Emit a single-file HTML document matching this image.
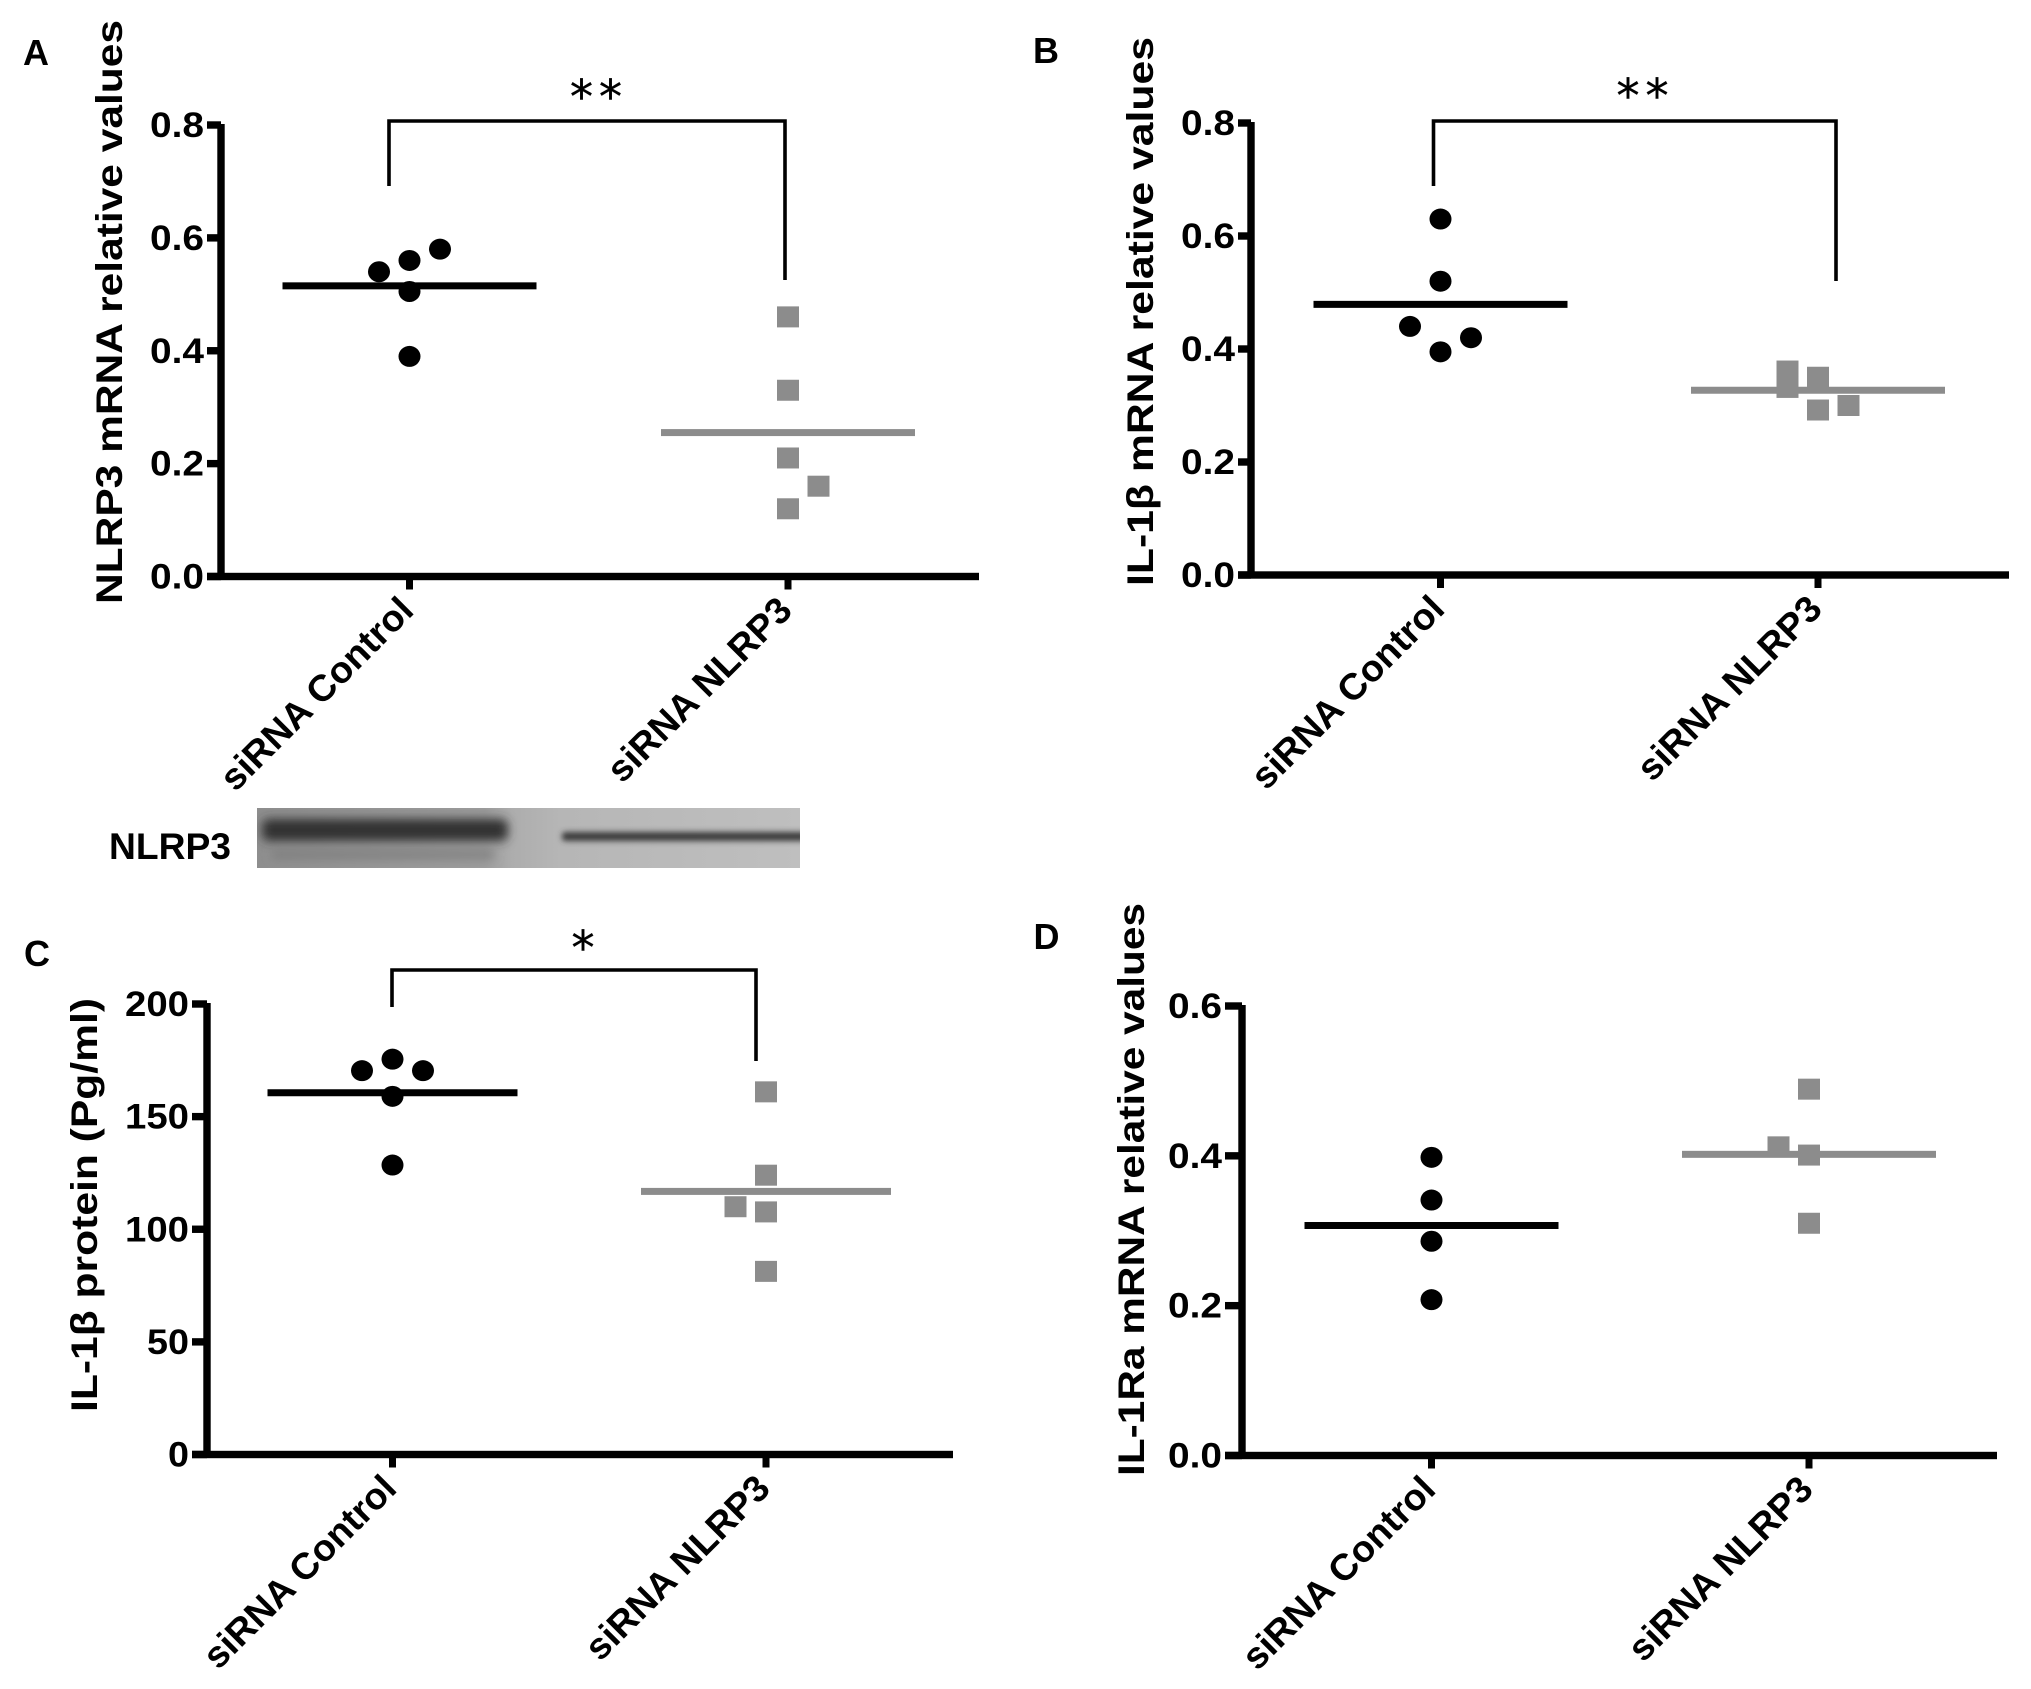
<!DOCTYPE html>
<html lang="en">
<head>
<meta charset="utf-8">
<title>NLRP3 siRNA knockdown panels</title>
<style>
html,body{margin:0;padding:0;background:#fff;}
#figure{display:block;width:2031px;height:1689px;}
text{font-family:"Liberation Sans",sans-serif;font-weight:700;fill:#000;}
</style>
</head>
<body>
<svg id="figure" xmlns="http://www.w3.org/2000/svg" width="2031" height="1689" viewBox="0 0 2031 1689">
  <defs>
    <linearGradient id="blot-bg" x1="0" x2="1" y1="0" y2="0">
      <stop offset="0" stop-color="#8e8e8e"/>
      <stop offset="0.42" stop-color="#9c9c9c"/>
      <stop offset="0.47" stop-color="#adadad"/>
      <stop offset="0.56" stop-color="#b6b6b6"/>
      <stop offset="1" stop-color="#bfbfbf"/>
    </linearGradient>
    <filter id="blot-blur" x="-10%" y="-120%" width="120%" height="340%"><feGaussianBlur stdDeviation="5"/></filter>
    <filter id="blot-blur-soft" x="-10%" y="-150%" width="120%" height="400%"><feGaussianBlur stdDeviation="3"/></filter>
    <clipPath id="blot-clip"><rect x="257" y="808" width="543" height="60"/></clipPath>
  </defs>
  <g clip-path="url(#blot-clip)">
    <rect x="257" y="808" width="543" height="60" fill="url(#blot-bg)"/>
    <rect x="262" y="819" width="246" height="22" rx="7" fill="#303030" filter="url(#blot-blur)"/>
    <rect x="272" y="851" width="222" height="7" fill="#7a7a7a" filter="url(#blot-blur)"/>
    <rect x="562" y="832" width="244" height="9" rx="3" fill="#3a3a3a" filter="url(#blot-blur-soft)"/>
  </g>
  <text x="109" y="859" font-size="37" textLength="122" lengthAdjust="spacingAndGlyphs">NLRP3</text>
  <g id="plots"></g>
</svg>
<script>
const categories = ['siRNA Control', 'siRNA NLRP3'];

const panelATicks = [0, 0.2, 0.4, 0.6, 0.8];
const panelAControl = [0.54, 0.56, 0.58, 0.505, 0.39];
const panelAControlSide = [-1, 0, 1, 0, 0];
const panelANlrp3 = [0.46, 0.33, 0.21, 0.16, 0.12];
const panelANlrp3Side = [0, 0, 0, 1, 0];
const panelAMeans = [0.515, 0.255];

const panelBTicks = [0, 0.2, 0.4, 0.6, 0.8];
const panelBControl = [0.63, 0.52, 0.44, 0.42, 0.395];
const panelBControlSide = [0, 0, -1, 1, 0];
const panelBNlrp3 = [0.361, 0.332, 0.35, 0.292, 0.30];
const panelBNlrp3Side = [-1, -1, 0, 0, 1];
const panelBMeans = [0.479, 0.327];

const panelCTicks = [0, 50, 100, 150, 200];
const panelCControl = [175.5, 170.4, 170.4, 159, 128.5];
const panelCControlSide = [0, -1, 1, 0, 0];
const panelCNlrp3 = [161, 124, 110, 107.7, 81.3];
const panelCNlrp3Side = [0, 0, -1, 0, 0];
const panelCMeans = [160.6, 116.8];

const panelDTicks = [0, 0.2, 0.4, 0.6];
const panelDControl = [0.398, 0.341, 0.286, 0.208];
const panelDControlSide = [0, 0, 0, 0];
const panelDNlrp3 = [0.489, 0.412, 0.401, 0.31];
const panelDNlrp3Side = [0, -1, 0, 0];
const panelDMeans = [0.307, 0.402];

const SVGNS = 'http://www.w3.org/2000/svg';
const root = document.getElementById('plots');

function make(parent, tag, attrs, content) {
  const el = document.createElementNS(SVGNS, tag);
  for (const key in attrs) el.setAttribute(key, attrs[key]);
  if (content !== undefined) el.textContent = content;
  parent.appendChild(el);
  return el;
}

function drawPanel(p) {
  const g = make(root, 'g', {});
  
  

  const yMax = p.ticks[p.ticks.length - 1];
  const yScale = function (v) { return p.y0 - (v / yMax) * (p.y0 - p.yTop); };
  const xScale = function (i) { return p.xA + i * (p.xB - p.xA); };
  const side = 30.5;
  const meanHalf = p.meanHalf || 127;

  const letter = make(g, 'text', { x: p.letterX, y: p.letterY, 'font-size': 36, textLength: 26, lengthAdjust: 'spacingAndGlyphs' }, p.letter);
  
  

  const title = make(g, 'text', {
    transform: 'translate(' + p.titleX + ',' + p.titleY + ') rotate(-90)',
    'font-size': 37, textLength: p.titleLen, lengthAdjust: 'spacingAndGlyphs'
  }, p.title);
  
  

  const yAxis = make(g, 'rect', { x: p.axisX - 3.7, y: p.yTop - 1, width: 7.4, height: p.y0 - p.yTop + 4 });
  
  

  const xAxis = make(g, 'rect', { x: p.axisStart, y: p.y0 - 3.7, width: p.axisEnd - p.axisStart, height: 7.4 });
  
  

  p.ticks.forEach(function (t) {
    const tick = make(g, 'rect', { x: p.axisStart, y: yScale(t) - 3.7, width: p.axisX - p.axisStart, height: 7.4 });
    
    
    const str = p.decimals ? t.toFixed(p.decimals) : String(t);
    const label = make(g, 'text', {
      x: p.axisStart - 3, y: yScale(t) + 12, 'font-size': 35, 'text-anchor': 'end',
      textLength: str.length === 1 ? 21 : (str.length === 2 ? 42 : (p.decimals ? 54 : 64)), lengthAdjust: 'spacingAndGlyphs'
    }, str);
    
    
  });

  categories.forEach(function (c, i) {
    const cx = xScale(i);
    const tick = make(g, 'rect', { x: cx - 3.5, y: p.y0, width: 7, height: 13 });
    
    
    const label = make(g, 'text', {
      transform: 'translate(' + (cx + 6) + ',' + (p.y0 + 36) + ') rotate(-45)',
      'font-size': 37, 'text-anchor': 'end',
      textLength: i === 0 ? 255 : 243, lengthAdjust: 'spacingAndGlyphs'
    }, c);
    
    
  });

  if (p.bracket) {
    const b = p.bracket;
    const path = make(g, 'path', {
      d: 'M' + b.left + ' ' + b.leftBottom + 'V' + b.top + 'H' + b.right + 'V' + b.rightBottom,
      fill: 'none', stroke: '#000', 'stroke-width': 3.6
    });
    
    
    const stars = make(g, 'text', {
      x: b.starX, y: b.starY, 'text-anchor': 'middle', 'font-size': 46,
      style: 'font-family:"DejaVu Sans",sans-serif;font-weight:400;letter-spacing:6px;stroke:#000;stroke-width:0.4'
    }, b.stars);
    
    
  }

  p.control.forEach(function (v, k) {
    const dot = make(g, 'ellipse', { cx: xScale(0) + p.controlSide[k] * side, cy: yScale(v), rx: 11, ry: 10.5, fill: '#000' });
    
    
  });

  p.nlrp3.forEach(function (v, k) {
    const sq = make(g, 'rect', { x: xScale(1) + p.nlrp3Side[k] * side - 11, y: yScale(v) - 10.5, width: 22, height: 21, fill: '#8c8c8c' });
    
    
  });

  const meanColors = ['#000', '#8c8c8c'];
  p.means.forEach(function (v, i) {
    const line = make(g, 'rect', { x: xScale(i) - meanHalf, y: yScale(v) - 3.5, width: meanHalf * 2, height: 7, fill: meanColors[i] });
    
    
  });
}

drawPanel({
  id: 'a', letter: 'A', letterX: 23, letterY: 65,
  title: 'NLRP3 mRNA relative values', titleX: 122, titleY: 604, titleLen: 584,
  axisX: 221, axisStart: 207, axisEnd: 979, y0: 576.5, yTop: 125, xA: 409.5, xB: 788,
  ticks: panelATicks, decimals: 1,
  control: panelAControl, controlSide: panelAControlSide,
  nlrp3: panelANlrp3, nlrp3Side: panelANlrp3Side, means: panelAMeans,
  bracket: { left: 389, right: 785, top: 121, leftBottom: 186, rightBottom: 280, starX: 599, starY: 113, stars: '**' }
});

drawPanel({
  id: 'b', letter: 'B', letterX: 1033, letterY: 63,
  title: 'IL-1β mRNA relative values', titleX: 1153, titleY: 586, titleLen: 549,
  axisX: 1251, axisStart: 1238, axisEnd: 2009, y0: 575, yTop: 123, xA: 1440.5, xB: 1818,
  ticks: panelBTicks, decimals: 1,
  control: panelBControl, controlSide: panelBControlSide,
  nlrp3: panelBNlrp3, nlrp3Side: panelBNlrp3Side, means: panelBMeans,
  bracket: { left: 1433.5, right: 1836, top: 121, leftBottom: 186, rightBottom: 281, starX: 1645.5, starY: 112, stars: '**' }
});

drawPanel({
  id: 'c', letter: 'C', letterX: 24, letterY: 966,
  title: 'IL-1β protein (Pg/ml)', titleX: 97, titleY: 1412, titleLen: 414,
  axisX: 207, axisStart: 192, axisEnd: 953, y0: 1454.5, yTop: 1004, xA: 392.5, xB: 766, meanHalf: 125,
  ticks: panelCTicks, decimals: 0,
  control: panelCControl, controlSide: panelCControlSide,
  nlrp3: panelCNlrp3, nlrp3Side: panelCNlrp3Side, means: panelCMeans,
  bracket: { left: 392, right: 756, top: 970, leftBottom: 1007, rightBottom: 1061, starX: 586, starY: 964, stars: '*' }
});

drawPanel({
  id: 'd', letter: 'D', letterX: 1033.5, letterY: 949,
  title: 'IL-1Ra mRNA relative values', titleX: 1144, titleY: 1476, titleLen: 573,
  axisX: 1242, axisStart: 1225, axisEnd: 1997, y0: 1455.5, yTop: 1006, xA: 1431.5, xB: 1809,
  ticks: panelDTicks, decimals: 1,
  control: panelDControl, controlSide: panelDControlSide,
  nlrp3: panelDNlrp3, nlrp3Side: panelDNlrp3Side, means: panelDMeans
});
</script>
</body>
</html>
